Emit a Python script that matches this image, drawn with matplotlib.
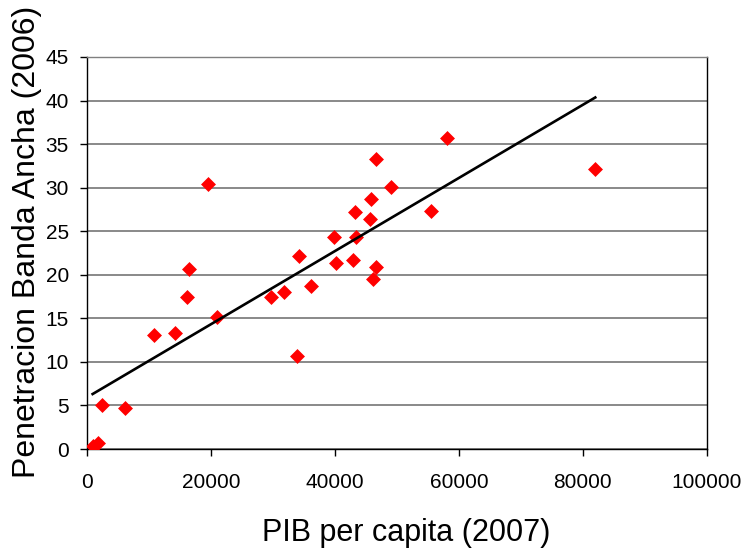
import matplotlib
matplotlib.use("Agg")
import matplotlib.pyplot as plt
import numpy as np

plt.rcParams['font.family'] = ['Liberation Sans', 'DejaVu Sans']

# PIB per capita (2007) vs penetracion banda ancha (2006)
pib = [910, 1720, 2370, 6180, 10810, 14190, 16180, 16450, 19560, 21020,
       29650, 31770, 33870, 34190, 36080, 39840, 40110, 42850, 43230, 43340,
       45650, 45860, 46060, 46560, 46560, 49030, 55560, 58010, 81990]
banda = [0.34, 0.73, 5.05, 4.67, 13.05, 13.35, 17.49, 20.66, 30.4, 15.19,
         17.5, 17.99, 10.7, 22.16, 18.71, 24.37, 21.31, 21.7, 27.17, 24.37,
         26.37, 28.73, 19.55, 20.93, 33.29, 30.04, 27.3, 35.7, 32.1]

# excel linear trendline
trend_slope = 0.0004198
trend_intercept = 5.93

xticks = [0, 20000, 40000, 60000, 80000, 100000]
yticks = list(range(0, 50, 5))

fig = plt.figure(figsize=(7.46, 5.53), dpi=100)
ax = fig.add_axes([0.1166, 0.188, 0.831, 0.709])

ax.grid(True, axis='y', color='#808080', linewidth=1.3)
ax.set_axisbelow(True)

ax.scatter(pib, banda, marker='D', s=58, color='#ff0000', linewidths=0, zorder=3)

xs = np.array([min(pib), max(pib)])
ax.plot(xs, trend_slope * xs + trend_intercept, color='black', linewidth=1.9, zorder=4)

ax.set_xlim(0, 100000)
ax.set_ylim(0, 45)
ax.set_xticks(xticks)
ax.set_yticks(yticks)
ax.tick_params(axis='both', labelsize=15, length=5, width=1, direction='out', colors='black')
ax.tick_params(axis='x', pad=12.5)
ax.tick_params(axis='y', pad=8)

for s in ax.spines.values():
    s.set_linewidth(1)
    s.set_color('black')
ax.spines['top'].set_color('#808080')

ax.set_xlabel("PIB per capita (2007)", fontsize=22)
ax.set_ylabel("Penetracion Banda Ancha (2006)", fontsize=23)
ax.xaxis.set_label_coords(0.515, -0.176)
ax.yaxis.set_label_coords(-0.072, 0.528)

fig.savefig("out.png", dpi=100)
